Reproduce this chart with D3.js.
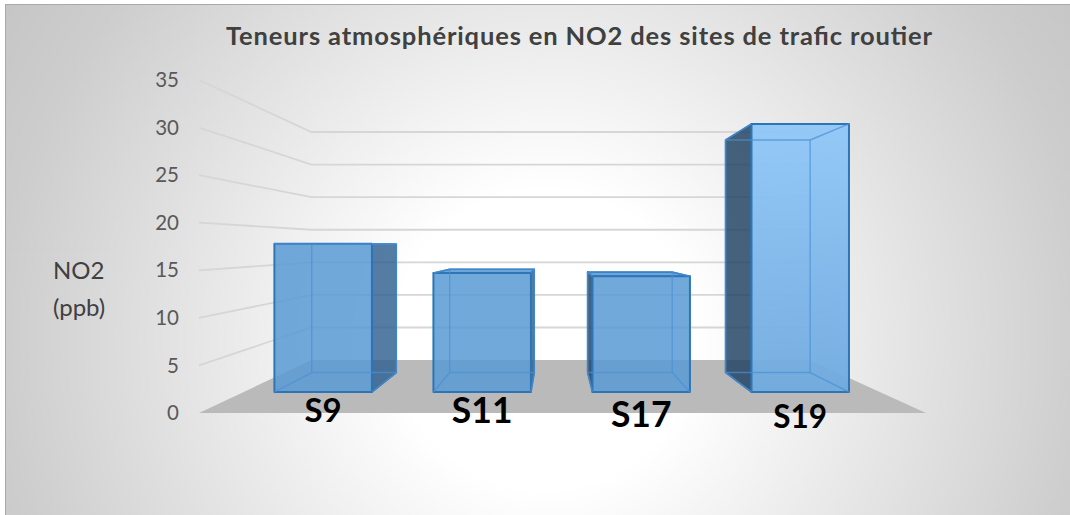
<!DOCTYPE html>
<html><head><meta charset="utf-8">
<script src="https://cdn.jsdelivr.net/npm/d3@7"></script>
<style>body{margin:0;background:#fff;overflow:hidden} svg{display:block}</style>
</head><body>
<svg id="c" width="1070" height="515"></svg>
<script>
// ---- data ----
const categories = ["S9", "S11", "S17", "S19"];
const values = [17.8, 14.3, 13.9, 32.2];
const yTicks = [0, 5, 10, 15, 20, 25, 30, 35];
const titleText = "Teneurs atmosphériques en NO2 des sites de trafic routier";
const yLabelLines = ["NO2", "(ppb)"];

// ---- style / layout config ----
const labelSizes = [33, 35.5, 35.5, 31.5];
const labelBaselines = [422, 423, 427, 428];

const svg = d3.select("#c");
const vp = {x: 556, y: 245};              // vanishing point
const sWall = 0.685, sF = 0.875, sB = 0.759; // depth scales
const x = d3.scaleBand().domain(categories).range([199, 926]).paddingInner(0.387).paddingOuter(0.1935);
const y = d3.scaleLinear().domain([0, 35]).range([413, 80]);
const P = (xf, yf, s) => [vp.x + (xf - vp.x) * s, vp.y + (yf - vp.y) * s];
const [xL, xR] = x.range();

// ---- defs ----
const defs = svg.append("defs");
const bg = defs.append("radialGradient").attr("id", "bg").attr("gradientUnits", "userSpaceOnUse")
  .attr("cx", 545).attr("cy", 340).attr("r", 680);
[[0, "#ffffff"], [0.22, "#ffffff"], [0.8, "#cdcdcd"], [1, "#c2c2c2"]].forEach(([o, c]) =>
  bg.append("stop").attr("offset", o).attr("stop-color", c));
const hl = defs.append("linearGradient").attr("id", "hl").attr("x1", 0).attr("y1", 0).attr("x2", 0).attr("y2", 1);
[[0, "#8fc7f8"], [1, "#70aadf"]].forEach(([o, c]) => hl.append("stop").attr("offset", o).attr("stop-color", c));

// ---- chart area ----
svg.append("rect").attr("x", 5.5).attr("y", 4.5).attr("width", 1070).attr("height", 520)
  .attr("fill", "url(#bg)").attr("stroke", "#a9a9a9").attr("stroke-width", 1);

// ---- gridlines (side wall + back wall) ----
const line = d3.line();
svg.append("g").selectAll("path").data(yTicks.filter(d => d > 0)).join("path")
  .attr("d", d => line([P(xL, y(d), 1), P(xL, y(d), sWall), P(xR, y(d), sWall)]))
  .attr("fill", "none").attr("stroke", "#d6d6d6").attr("stroke-width", 1.8);

// ---- floor ----
svg.append("path")
  .attr("d", line([P(xL, y(0), 1), P(xR, y(0), 1), P(xR, y(0), sWall), P(xL, y(0), sWall)]) + "Z")
  .attr("fill", "#bababa");

// ---- y tick labels ----
svg.append("g").selectAll("text").data(yTicks).join("text")
  .attr("x", 179).attr("y", d => y(d)).attr("dy", "0.35em").attr("text-anchor", "end")
  .attr("font-family", "Lato").attr("font-size", 20.5).attr("fill", "#595959").text(d => d);

// ---- y axis title ----
svg.append("g").selectAll("text").data(yLabelLines).join("text")
  .attr("x", 53).attr("y", (d, i) => 279 + i * 37)
  .attr("font-family", "Lato").attr("font-size", 24).attr("fill", "#404040").text(d => d);

// ---- bars ----
const maxV = d3.max(values);
categories.forEach((c, i) => {
  const v = values[i];
  const x0 = x(c), x1 = x0 + x.bandwidth(), yt = y(v), yb = y(0);
  const F = {tl: P(x0, yt, sF), tr: P(x1, yt, sF), br: P(x1, yb, sF), bl: P(x0, yb, sF)};
  const B = {tl: P(x0, yt, sB), tr: P(x1, yt, sB), br: P(x1, yb, sB), bl: P(x0, yb, sB)};
  const g = svg.append("g");
  // side face
  let side = null, sideFill = null;
  if (x1 < vp.x) { side = [F.tr, B.tr, B.br, F.br]; sideFill = "#2f5f8f"; }
  else if (x0 > vp.x) { side = [F.tl, B.tl, B.bl, F.bl]; sideFill = "#1f3f5f"; }
  if (side) g.append("path").attr("d", line(side) + "Z").attr("fill", sideFill).attr("fill-opacity", 0.82)
    .attr("stroke", "#2e75b6").attr("stroke-width", 1.6).attr("stroke-linejoin", "round");
  // top face
  if (F.tl[1] > vp.y + 0.5) g.append("path").attr("d", line([F.tl, F.tr, B.tr, B.tl]) + "Z")
    .attr("fill", "#5b9bd5").attr("fill-opacity", 0.9).attr("stroke", "#2e75b6").attr("stroke-width", 1.6)
    .attr("stroke-linejoin", "round");
  // front face
  g.append("path").attr("d", line([F.tl, F.tr, F.br, F.bl]) + "Z")
    .attr("fill", v === maxV ? "url(#hl)" : "#5b9bd5").attr("fill-opacity", v === maxV ? 0.95 : 0.86)
    .attr("stroke", "#2e75b6").attr("stroke-width", 2).attr("stroke-linejoin", "round");
  // inner (see-through) edges
  const edges = [[B.tl, B.tr], [B.tr, B.br], [B.br, B.bl], [B.bl, B.tl], [F.tl, B.tl], [F.tr, B.tr], [F.br, B.br], [F.bl, B.bl]];
  g.selectAll("path.e").data(edges).join("path").attr("class", "e").attr("d", d => line(d))
    .attr("fill", "none").attr("stroke", "#4a90d4").attr("stroke-opacity", 0.7).attr("stroke-width", 1.4);
});

// ---- category labels ----
svg.append("g").selectAll("text").data(categories).join("text")
  .attr("x", d => P(x(d) + x.bandwidth() / 2, y(0), sF)[0])
  .attr("y", (d, i) => labelBaselines[i]).attr("text-anchor", "middle")
  .attr("font-family", "Lato").attr("font-weight", 700).attr("font-size", (d, i) => labelSizes[i])
  .attr("fill", "#000").text(d => d);

// ---- title ----
svg.append("text").attr("x", 579).attr("y", 45).attr("text-anchor", "middle")
  .attr("font-family", "Lato").attr("font-weight", 700).attr("font-size", 25.5)
  .attr("textLength", 706).attr("lengthAdjust", "spacing")
  .attr("fill", "#404040").text(titleText);
</script>
</body></html>
